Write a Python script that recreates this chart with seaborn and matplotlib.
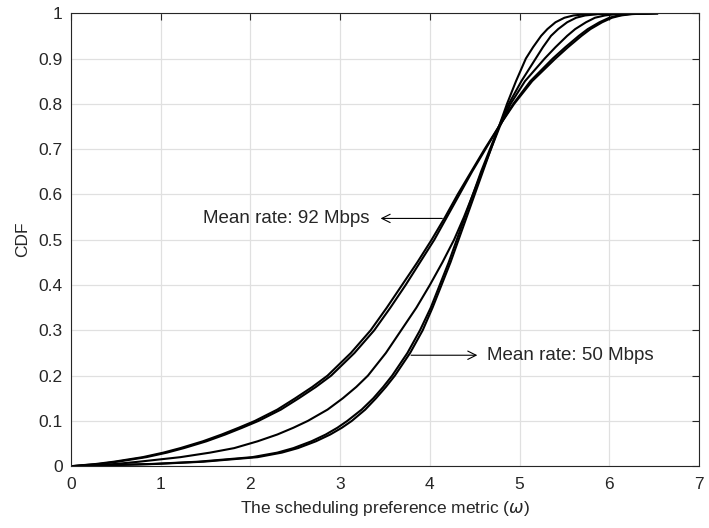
import matplotlib
matplotlib.use("Agg")
import matplotlib.pyplot as plt
import seaborn as sns
import pandas as pd

# CDF levels shared by all curves, and the metric value reached at each level
cdf_levels = [0, 0.005, 0.01, 0.02, 0.03, 0.04, 0.055, 0.07, 0.085, 0.1, 0.125,
              0.15, 0.175, 0.2, 0.25, 0.3, 0.35, 0.4, 0.45, 0.5, 0.55, 0.6, 0.65,
              0.7, 0.75, 0.8, 0.85, 0.9, 0.925, 0.95, 0.965, 0.98, 0.99, 0.995,
              0.998, 1.0]

# Mean rate 92 Mbps (two runs)
omega_92a = [0, 0.28, 0.48, 0.80, 1.03, 1.22, 1.47, 1.68, 1.87, 2.05, 2.30,
             2.50, 2.69, 2.86, 3.12, 3.34, 3.52, 3.69, 3.86, 4.02, 4.17, 4.31, 4.46,
             4.61, 4.77, 4.94, 5.14, 5.40, 5.54, 5.69, 5.79, 5.92, 6.03, 6.13,
             6.25, 6.54]
omega_92b = [0, 0.32, 0.52, 0.84, 1.07, 1.26, 1.51, 1.72, 1.91, 2.09, 2.34,
             2.54, 2.73, 2.90, 3.16, 3.38, 3.56, 3.73, 3.89, 4.05, 4.19, 4.33, 4.47,
             4.62, 4.77, 4.93, 5.12, 5.37, 5.51, 5.66, 5.76, 5.89, 6.00, 6.10,
             6.22, 6.54]
# Intermediate rate
omega_mid = [0, 0.50, 0.76, 1.22, 1.55, 1.82, 2.08, 2.30, 2.48, 2.64, 2.86,
             3.03, 3.18, 3.31, 3.51, 3.68, 3.85, 4.00, 4.14, 4.27, 4.38, 4.48, 4.58,
             4.68, 4.78, 4.90, 5.06, 5.28, 5.40, 5.53, 5.62, 5.74, 5.84, 5.95,
             6.08, 6.54]
# Mean rate 50 Mbps (two runs)
omega_50a = [0, 0.90, 1.42, 2.02, 2.30, 2.48, 2.68, 2.84, 2.97, 3.08, 3.24,
             3.37, 3.48, 3.58, 3.75, 3.89, 4.01, 4.11, 4.21, 4.30, 4.39, 4.48, 4.57,
             4.67, 4.77, 4.86, 4.96, 5.07, 5.15, 5.24, 5.31, 5.40, 5.50, 5.60,
             5.75, 6.54]
omega_50b = [0, 0.95, 1.48, 2.08, 2.35, 2.53, 2.73, 2.89, 3.02, 3.13, 3.28,
             3.40, 3.51, 3.61, 3.78, 3.92, 4.03, 4.13, 4.23, 4.32, 4.41, 4.50, 4.59,
             4.68, 4.77, 4.88, 5.02, 5.18, 5.26, 5.35, 5.43, 5.53, 5.63, 5.73,
             5.88, 6.54]

series = {"92a": omega_92a, "92b": omega_92b, "mid": omega_mid,
          "50a": omega_50a, "50b": omega_50b}

x_ticks = [0, 1, 2, 3, 4, 5, 6, 7]
y_ticks = [0, 0.1, 0.2, 0.3, 0.4, 0.5, 0.6, 0.7, 0.8, 0.9, 1]
y_tick_labels = ["0", "0.1", "0.2", "0.3", "0.4", "0.5", "0.6", "0.7", "0.8", "0.9", "1"]

sns.set_style("white")
plt.rcParams["font.family"] = ["Liberation Sans", "DejaVu Sans"]
plt.rcParams["mathtext.fontset"] = "dejavusans"

fig = plt.figure(figsize=(7.09, 5.28), dpi=100)
ax = fig.add_axes([0.100, 0.117, 0.886, 0.858])

for name, omega in series.items():
    df = pd.DataFrame({"omega": omega, "cdf": cdf_levels})
    sns.lineplot(data=df, x="omega", y="cdf", ax=ax, color="black",
                 linewidth=1.5, sort=False, estimator=None)

ax.set_xlim(0, 7)
ax.set_ylim(0, 1)
ax.set_xticks(x_ticks)
ax.set_yticks(y_ticks)
ax.set_yticklabels(y_tick_labels)
ax.grid(True, color="#e0e0e0", linewidth=0.9)
ax.set_axisbelow(True)
for sp in ax.spines.values():
    sp.set_color("#262626")
    sp.set_linewidth(0.8)
ax.tick_params(direction="in", length=5, width=0.8, colors="#262626",
               labelsize=12.5, top=True, right=True, labeltop=False, labelright=False)
ax.tick_params(axis="x", pad=8)
ax.tick_params(axis="y", pad=6)
for lab in ax.get_xticklabels() + ax.get_yticklabels():
    lab.set_color("#262626")

ax.set_xlabel(r"The scheduling preference metric ($\omega$)", fontsize=12.5,
              color="#262626", labelpad=5)
ax.set_ylabel("CDF", fontsize=12.5, color="#262626", labelpad=6)

# Annotations for the two mean-rate groups
ax.annotate("", xy=(3.42, 0.547), xytext=(4.17, 0.547),
            arrowprops=dict(arrowstyle="->", color="black", lw=0.8, mutation_scale=15))
ax.text(3.33, 0.547, "Mean rate: 92 Mbps", ha="right", va="center", fontsize=13.5)
ax.annotate("", xy=(4.56, 0.245), xytext=(3.76, 0.245),
            arrowprops=dict(arrowstyle="->", color="black", lw=0.8, mutation_scale=15))
ax.text(4.64, 0.245, "Mean rate: 50 Mbps", ha="left", va="center", fontsize=13.5)

fig.savefig("out.png", dpi=100)
